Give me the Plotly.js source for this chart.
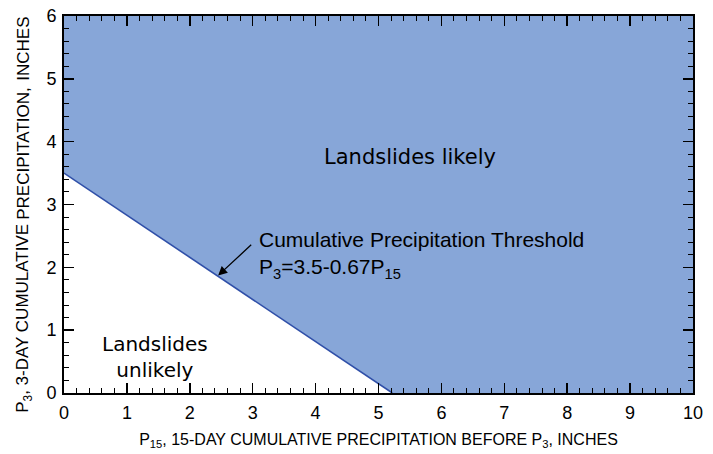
<!DOCTYPE html>
<html>
<head>
<meta charset="utf-8">
<script src="https://cdn.plot.ly/plotly-3.0.1.min.js"></script>
<style>html,body{margin:0;padding:0;background:#fff;}#chart{width:713px;height:454px;}</style>
</head>
<body>
<div id="chart"></div>
<script>
// Threshold line P3 = 3.5 - 0.67 P15
const thresholdX = [0, 5.22];
const thresholdY = [3.5, 0];
// Region where landslides are likely (above the threshold)
const likelyX = [0, 5.22, 10, 10, 0, 0];
const likelyY = [3.5, 0, 0, 6, 6, 3.5];
const xTickVals = [0,1,2,3,4,5,6,7,8,9,10];
const yTickVals = [0,1,2,3,4,5,6];
// y-axis title, in pieces drawn end to end
const yTitleParts = ['P<sub>3</sub>, 3-DAY CUMULATIVE', 'PRECIPITATION,', 'INCHES'];

const font = 'Liberation Sans, Arial, Helvetica, sans-serif';
const font2 = 'DejaVu Sans, Verdana, sans-serif';

const data = [
  {x: likelyX, y: likelyY, type: 'scatter', mode: 'none', fill: 'toself',
   fillcolor: '#87a6d8', hoverinfo: 'skip', showlegend: false},
  {x: thresholdX, y: thresholdY, type: 'scatter', mode: 'lines',
   line: {color: '#2f4fa8', width: 1.6}, showlegend: false}
];

const axisCommon = {
  showgrid: false, zeroline: false, showline: true, linecolor: '#000', linewidth: 2,
  mirror: 'ticks', ticks: 'inside', ticklen: 10, tickwidth: 1.5, tickcolor: '#000',
  tickfont: {family: font, size: 18, color: '#000'},
  minor: {ticks: 'inside', ticklen: 5, tickwidth: 1, tickcolor: '#000', dtick: 0.2, showgrid: false},
  fixedrange: true
};

const yt = {xref: 'paper', yref: 'paper', x: -0.0636, xanchor: 'center', textangle: -90,
            showarrow: false, font: {family: font, size: 17, color: '#000'}};

const layout = {
  width: 713, height: 454,
  margin: {l: 64, r: 20, t: 16, b: 61},
  paper_bgcolor: '#fff', plot_bgcolor: '#fff',
  font: {family: font, color: '#000'},
  xaxis: Object.assign({}, axisCommon, {
    range: [0, 10], tickvals: xTickVals, ticktext: xTickVals.map(String), ticklabelstandoff: 2,
    title: {text: 'P<sub>15</sub>, 15-DAY CUMULATIVE PRECIPITATION BEFORE P<sub>3</sub>, INCHES',
            font: {family: font, size: 16, color: '#000'}, standoff: 12}
  }),
  yaxis: Object.assign({}, axisCommon, {
    range: [0, 6], tickvals: yTickVals, ticktext: yTickVals.map(String), ticklabelstandoff: 2
  }),
  annotations: [
    {x: 5.5, y: 3.76, xref: 'x', yref: 'y', text: 'Landslides likely', showarrow: false,
     font: {family: font2, size: 21, color: '#000'}},
    {x: 1.45, y: 0.58, xref: 'x', yref: 'y', text: 'Landslides<br>unlikely', showarrow: false,
     font: {family: font2, size: 20, color: '#000'}},
    {x: 2.45, y: 1.87, xref: 'x', yref: 'y', ax: 3.0, ay: 2.38, axref: 'x', ayref: 'y',
     text: '', showarrow: true, arrowhead: 2, arrowsize: 1.4, arrowwidth: 1.3, arrowcolor: '#000'},
    {x: 3.07, y: 2.2, xref: 'x', yref: 'y', xanchor: 'left', yanchor: 'middle', align: 'left',
     text: 'Cumulative Precipitation Threshold<br>P<sub>3</sub>=3.5-0.67P<sub>15</sub>', showarrow: false,
     font: {family: font, size: 21, color: '#000'}},
    Object.assign({}, yt, {y: 0.4554, yanchor: 'top', text: yTitleParts[0]}),
    Object.assign({}, yt, {y: 0.4554, yanchor: 'bottom', text: yTitleParts[1]}),
    Object.assign({}, yt, {y: 0.823, yanchor: 'bottom', text: yTitleParts[2]})
  ]
};

Plotly.newPlot('chart', data, layout, {staticPlot: true, displayModeBar: false});
</script>
</body>
</html>
